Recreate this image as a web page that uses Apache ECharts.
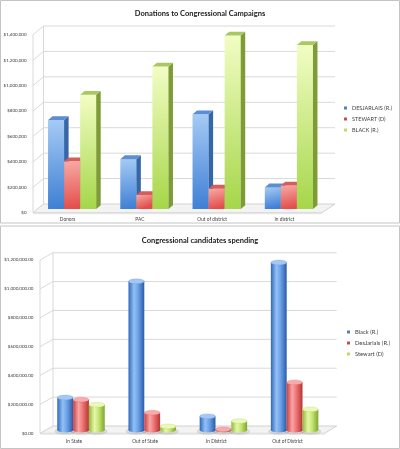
<!DOCTYPE html>
<html><head><meta charset="utf-8">
<script src="https://cdn.jsdelivr.net/npm/echarts@6/dist/echarts.min.js"></script>
<style>html,body{margin:0;padding:0;background:#fff}#c{width:400px;height:449px}</style>
</head><body><div id="c"></div>
<script>
// ---- Chart 1: Donations ----
var topCategories = ['Donors', 'PAC', 'Out of district', 'In district'];
var topSeriesNames = ['DESJARLAIS (R.)', 'STEWART (D)', 'BLACK (R.)'];
var topDesjarlais = [700000, 392000, 745000, 170000];
var topStewart = [375000, 110000, 160000, 185000];
var topBlack = [898000, 1120000, 1365000, 1290000];
var topTicks = [0, 200000, 400000, 600000, 800000, 1000000, 1200000, 1400000];

// ---- Chart 2: Spending ----
var bottomCategories = ['In State', 'Out of State', 'In District', 'Out of District'];
var bottomSeriesNames = ['Black (R.)', 'DesJarlais (R.)', 'Stewart (D)'];
var bottomBlack = [225000, 1030000, 95000, 1160000];
var bottomDesjarlais = [210000, 120000, 5000, 330000];
var bottomStewart = [175000, 25000, 62000, 143000];
var bottomTicks = [0, 200000, 400000, 600000, 800000, 1000000, 1200000];

var FONT = 'Lato, "Open Sans", sans-serif';
var GROUP = 2 / 3;

var boxPal = [
  {legend: '#4F81BD', f0: '#a6cbf5', f1: '#3f7fd4', side: '#3566a8', top: '#5b8ed2'},
  {legend: '#C0504D', f0: '#f7aaa6', f1: '#e24e4b', side: '#b33e3c', top: '#d85c59'},
  {legend: '#B8DC6E', f0: '#f2fdc4', f1: '#a6d64a', side: '#7d9c36', top: '#a9c862'}
];
var cylPal = [
  {legend: '#4F81BD', e0: '#2f68bb', m: '#94c0f4', m2: '#6ea3e8', e1: '#2a5ca8', top: '#a3c8f5', stroke: '#5b8bd0'},
  {legend: '#C0504D', e0: '#d03c3c', m: '#f8a6a6', m2: '#ef7676', e1: '#b83434', top: '#f6acac', stroke: '#d86060'},
  {legend: '#B8DC6E', e0: '#8fba36', m: '#e6f7a8', m2: '#c8e678', e1: '#7fa82c', top: '#eaf9b8', stroke: '#a4c858'}
];

function makeBox(idx, pal, sx, sy) {
  return function (params, api) {
    var cat = api.value(0), v = api.value(1);
    var p0 = api.coord([cat, 0]), p1 = api.coord([cat, v]);
    var band = api.size([1, 0])[0];
    var w = band * GROUP / 3;
    var x = p0[0] - band * GROUP / 2 + idx * w + sx;
    var yb = p0[1] - sy, yt = p1[1] - sy;
    var dx = 4.5, dy = 3.8;
    return {type: 'group', children: [
      {type: 'rect', shape: {x: x, y: yt, width: w, height: yb - yt},
        style: {fill: new echarts.graphic.LinearGradient(0, 0, 0.35, 1, [
          {offset: 0, color: pal.f0}, {offset: 1, color: pal.f1}])}},
      {type: 'polygon', shape: {points: [[x + w, yt], [x + w + dx, yt - dy], [x + w + dx, yb - dy], [x + w, yb]]},
        style: {fill: pal.side}},
      {type: 'polygon', shape: {points: [[x, yt], [x + dx, yt - dy], [x + w + dx, yt - dy], [x + w, yt]]},
        style: {fill: pal.top}}
    ]};
  };
}

function makeCyl(idx, pal, sx, sy) {
  return function (params, api) {
    var cat = api.value(0), v = api.value(1);
    var p0 = api.coord([cat, 0]), p1 = api.coord([cat, v]);
    var band = api.size([1, 0])[0];
    var w = band * GROUP / 3;
    var x = p0[0] - band * GROUP / 2 + idx * w + sx;
    var yb = p0[1] - sy, yt = p1[1] - sy;
    var rx = w / 2, ry = 2.4, cx = x + rx;
    var grad = new echarts.graphic.LinearGradient(0, 0, 1, 0, [
      {offset: 0, color: pal.e0}, {offset: 0.35, color: pal.m},
      {offset: 0.6, color: pal.m2}, {offset: 1, color: pal.e1}]);
    return {type: 'group', children: [
      {type: 'circle', x: cx, y: yb + 1.2, scaleY: (ry + 1.2) / (rx + 3), shape: {cx: 0, cy: 0, r: rx + 3},
        style: {fill: 'rgba(0,0,0,0.10)'}},
      {type: 'circle', x: cx, y: yb, scaleY: ry / rx, shape: {cx: 0, cy: 0, r: rx}, style: {fill: grad}},
      {type: 'rect', shape: {x: x, y: yt, width: w, height: Math.max(0, yb - yt)}, style: {fill: grad}},
      {type: 'circle', x: cx, y: yt, scaleY: ry / rx, shape: {cx: 0, cy: 0, r: rx},
        style: {fill: pal.top, stroke: pal.stroke, lineWidth: 0.4}}
    ]};
  };
}

function makeWall(cfg) {
  return function (params, api) {
    var cs = params.coordSys;
    var v = api.value(1);
    var y = api.coord([0, v])[1];
    var Lf = cs.x + cfg.fl, Lb = Lf + cfg.dx;
    var Rb = cs.x + cs.width + cfg.rb, Rf = cs.x + cs.width + cfg.rf;
    var st = {stroke: '#cfcfcf', lineWidth: 0.8, fill: null};
    var ch = [];
    if (v === 0) {
      ch.push({type: 'polygon', shape: {points: [[Lf, y], [Rf, y], [Rb, y - cfg.dy], [Lb, y - cfg.dy]]},
        style: {fill: '#f3f3f3', stroke: '#c8c8c8', lineWidth: 0.8}});
      ch.push({type: 'polygon', shape: {points: [[Lf, y], [Rf, y], [Rf, y + 1.5], [Lf, y + 1.5]]},
        style: {fill: '#e6e6e6', stroke: null}});
      ch.push({type: 'line', shape: {x1: Lf, y1: y, x2: Lf, y2: cs.y}, style: st});
      ch.push({type: 'line', shape: {x1: Lb, y1: y - cfg.dy, x2: Lb, y2: cs.y - cfg.dy}, style: st});
    } else {
      ch.push({type: 'polyline', shape: {points: [[Lf, y], [Lb, y - cfg.dy], [Rb, y - cfg.dy]]}, style: st});
    }
    return {type: 'group', children: ch};
  };
}

var topData = [topDesjarlais, topStewart, topBlack];
var bottomData = [bottomBlack, bottomDesjarlais, bottomStewart];

function toPairs(arr) { return arr.map(function (v, i) { return [i, v]; }); }

var series = [];
series.push({type: 'custom', name: 'topWall', xAxisIndex: 0, yAxisIndex: 0, z: 1, silent: true, clip: false,
  renderItem: makeWall({fl: 1.5, dx: 10.5, dy: 8.7, rb: 14.5, rf: 1.5}),
  data: topTicks.map(function (t) { return [0, t]; }), encode: {x: 0, y: 1}});
series.push({type: 'custom', name: 'bottomWall', xAxisIndex: 1, yAxisIndex: 1, z: 1, silent: true, clip: false,
  renderItem: makeWall({fl: 1.6, dx: 13, dy: 7.3, rb: 13.5, rf: 1.5}),
  data: bottomTicks.map(function (t) { return [0, t]; }), encode: {x: 0, y: 1}});
topSeriesNames.forEach(function (n, i) {
  series.push({type: 'custom', name: n, xAxisIndex: 0, yAxisIndex: 0, z: 2 + i, clip: false,
    itemStyle: {color: boxPal[i].legend},
    renderItem: makeBox(i, boxPal[i], 4.5, 3.7), data: toPairs(topData[i]), encode: {x: 0, y: 1}});
});
bottomSeriesNames.forEach(function (n, i) {
  series.push({type: 'custom', name: n, xAxisIndex: 1, yAxisIndex: 1, z: 2 + i, clip: false,
    itemStyle: {color: cylPal[i].legend},
    renderItem: makeCyl(i, cylPal[i], 7, 3.3), data: toPairs(bottomData[i]), encode: {x: 0, y: 1}});
});

var chart = echarts.init(document.getElementById('c'), null, {renderer: 'canvas'});
chart.setOption({
  backgroundColor: '#ffffff',
  animation: false,
  textStyle: {fontFamily: FONT},
  graphic: [
    {type: 'rect', z: -10, shape: {x: 0.5, y: 0.5, width: 399, height: 222.5}, style: {fill: '#fff', stroke: '#c4c4c4', lineWidth: 1}},
    {type: 'rect', z: -10, shape: {x: 0.5, y: 226, width: 399, height: 222.5}, style: {fill: '#fff', stroke: '#c4c4c4', lineWidth: 1}}
  ],
  title: [
    {text: 'Donations to Congressional Campaigns', left: 'center', top: 5,
      textStyle: {fontSize: 7.5, fontWeight: 'bold', color: '#1a1a1a', fontFamily: FONT}},
    {text: 'Congressional candidates spending', left: 'center', top: 232,
      textStyle: {fontSize: 7.5, fontWeight: 'bold', color: '#1a1a1a', fontFamily: FONT}}
  ],
  legend: [
    {orient: 'vertical', left: 344, top: 105, icon: 'rect', itemWidth: 3, itemHeight: 3, itemGap: 5,
      data: topSeriesNames, textStyle: {fontSize: 5.5, color: '#404040', fontFamily: FONT}, padding: 0},
    {orient: 'vertical', left: 347, top: 329, icon: 'rect', itemWidth: 3, itemHeight: 3, itemGap: 5,
      data: bottomSeriesNames, textStyle: {fontSize: 5.8, color: '#404040', fontFamily: FONT}, padding: 0}
  ],
  grid: [
    {left: 31.5, right: 79.5, top: 34.7, bottom: 236.3},
    {left: 38.4, right: 76.8, top: 260, bottom: 15.7}
  ],
  xAxis: [
    {type: 'category', gridIndex: 0, data: topCategories, axisLine: {show: false}, axisTick: {show: false},
      axisLabel: {fontSize: 4.8, color: '#404040', margin: 4.5, interval: 0}},
    {type: 'category', gridIndex: 1, data: bottomCategories, axisLine: {show: false}, axisTick: {show: false},
      axisLabel: {fontSize: 4.8, color: '#404040', margin: 6, interval: 0}}
  ],
  yAxis: [
    {type: 'value', gridIndex: 0, min: 0, max: topTicks[topTicks.length - 1], interval: 200000,
      axisLine: {show: false}, axisTick: {show: false}, splitLine: {show: false},
      axisLabel: {fontSize: 4.5, color: '#404040', margin: 5,
        formatter: function (v) { return '$' + v.toLocaleString('en-US'); }}},
    {type: 'value', gridIndex: 1, min: 0, max: bottomTicks[bottomTicks.length - 1], interval: 200000,
      axisLine: {show: false}, axisTick: {show: false}, splitLine: {show: false},
      axisLabel: {fontSize: 4.5, color: '#404040', margin: 5,
        formatter: function (v) { return '$' + v.toLocaleString('en-US', {minimumFractionDigits: 2, maximumFractionDigits: 2}); }}}
  ],
  series: series
});
</script>
</body></html>
